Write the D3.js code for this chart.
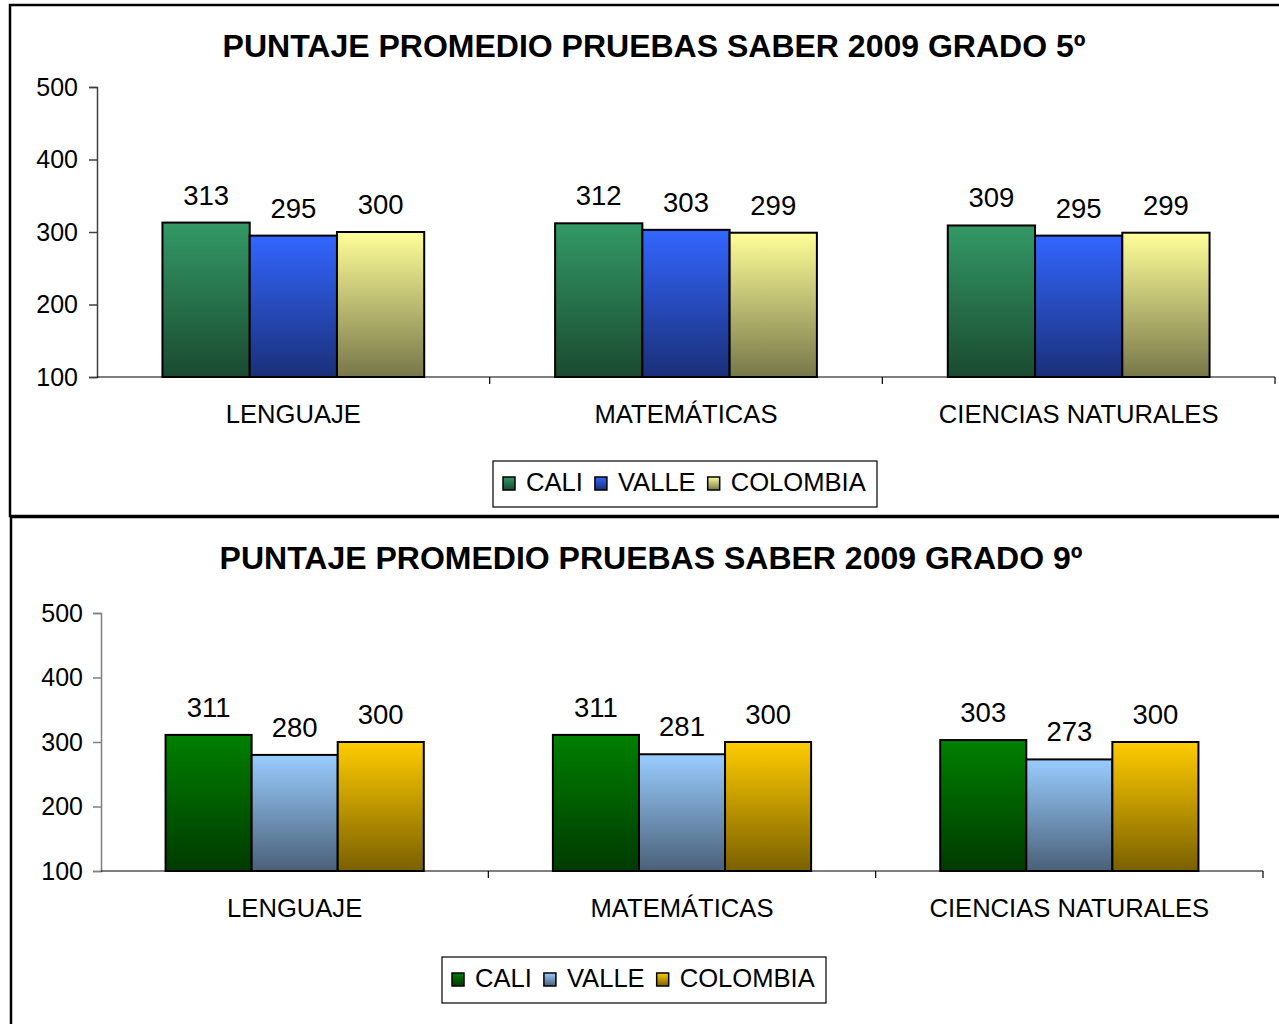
<!DOCTYPE html>
<html><head><meta charset="utf-8">
<script src="https://cdn.jsdelivr.net/npm/d3@7"></script>
<style>
html,body{margin:0;padding:0;background:#fff;}
svg{display:block;font-family:"Liberation Sans",Arial,sans-serif;}
</style></head>
<body>
<svg id="c" width="1279" height="1024"></svg>
<script>
const categories = ["LENGUAJE", "MATEMÁTICAS", "CIENCIAS NATURALES"];
const seriesNames = ["CALI", "VALLE", "COLOMBIA"];
const grado5Cali = [313, 312, 309];
const grado5Valle = [295, 303, 295];
const grado5Colombia = [300, 299, 299];
const grado9Cali = [311, 311, 303];
const grado9Valle = [280, 281, 273];
const grado9Colombia = [300, 300, 300];
const yTicks = [100, 200, 300, 400, 500];

const svg = d3.select("#c");
const defs = svg.append("defs");

const charts = [
  {
    title: "PUNTAJE PROMEDIO PRUEBAS SABER 2009 GRADO 5º",
    values: [grado5Cali, grado5Valle, grado5Colombia],
    colors: [["#339966","#1a4a30"],["#3366ff","#1a2f78"],["#ffff99","#77774a"]],
    frame: {x:10, y:5, w:1300, h:511},
    titleX: 654, titleY: 57, x0: 97, x1: 1275, yTop: 87, yBot: 377,
    tickEnd: 78, catY: 423, axisColor: "#404040",
    legend: {x:493, y:461, w:384, h:46}
  },
  {
    title: "PUNTAJE PROMEDIO PRUEBAS SABER 2009 GRADO 9º",
    values: [grado9Cali, grado9Valle, grado9Colombia],
    colors: [["#008000","#003a00"],["#99ccff","#4a6078"],["#ffcc00","#7a6000"]],
    frame: {x:11, y:517, w:1300, h:600},
    titleX: 651, titleY: 569, x0: 101, x1: 1263, yTop: 613, yBot: 871,
    tickEnd: 83, catY: 917, axisColor: "#808080",
    legend: {x:442, y:957, w:384, h:46}
  }
];

charts.forEach((ch, ci) => {
  const g = svg.append("g");
  g.append("rect").attr("x", ch.frame.x).attr("y", ch.frame.y)
    .attr("width", ch.frame.w).attr("height", ch.frame.h)
    .attr("fill", "#fff").attr("stroke", "#000").attr("stroke-width", 2.5);

  ch.colors.forEach((c, si) => {
    const lg = defs.append("linearGradient").attr("id", `g${ci}_${si}`)
      .attr("x1", 0).attr("y1", 0).attr("x2", 0).attr("y2", 1);
    lg.append("stop").attr("offset", "0%").attr("stop-color", c[0]);
    lg.append("stop").attr("offset", "100%").attr("stop-color", c[1]);
  });

  g.append("text").attr("x", ch.titleX).attr("y", ch.titleY)
    .attr("text-anchor", "middle").attr("font-weight", "bold")
    .attr("font-size", 32).attr("fill", "#000").text(ch.title);

  const y = d3.scaleLinear().domain([100, 500]).range([ch.yBot, ch.yTop]);
  const x = d3.scaleBand().domain(categories).range([ch.x0, ch.x1]).padding(0);
  const bw = x.bandwidth();
  const xs = d3.scaleBand().domain(seriesNames).range([bw / 6, bw * 5 / 6]).padding(0);

  const ya = g.append("g").attr("transform", `translate(${ch.x0},0)`)
    .call(d3.axisLeft(y).tickValues(yTicks).tickSize(8).tickPadding(ch.x0 - 8 - ch.tickEnd).tickFormat(d3.format("d")));
  ya.select(".domain").attr("stroke", ch.axisColor).attr("stroke-width", 1.5);
  ya.selectAll(".tick line").attr("stroke", ch.axisColor).attr("stroke-width", 1.5);
  ya.selectAll(".tick text").attr("font-size", 25).attr("fill", "#000")
    .attr("font-family", "Liberation Sans, Arial, sans-serif");

  const xa = g.append("g").attr("transform", `translate(0,${ch.yBot})`);
  xa.append("line").attr("x1", ch.x0).attr("x2", ch.x1).attr("stroke", "#000").attr("stroke-width", 1.2);
  const bounds = categories.map(c => x(c)).concat([x(categories[categories.length-1]) + bw]);
  xa.selectAll("line.b").data(bounds.slice(1)).join("line").attr("class","b")
    .attr("x1", d => d).attr("x2", d => d).attr("y1", 0).attr("y2", 7)
    .attr("stroke", "#000").attr("stroke-width", 1.2);
  g.selectAll("text.cat").data(categories).join("text").attr("class","cat")
    .attr("x", d => x(d) + bw / 2).attr("y", ch.catY)
    .attr("text-anchor", "middle").attr("font-size", 25.6).attr("fill", "#000").text(d => d);

  seriesNames.forEach((s, si) => {
    const vals = ch.values[si];
    g.selectAll(`rect.s${si}`).data(vals).join("rect").attr("class", `s${si}`)
      .attr("x", (d, i) => x(categories[i]) + xs(s))
      .attr("y", d => y(d))
      .attr("width", xs.bandwidth())
      .attr("height", d => ch.yBot - y(d))
      .attr("fill", `url(#g${ci}_${si})`)
      .attr("stroke", "#000").attr("stroke-width", 2);
    g.selectAll(`text.v${si}`).data(vals).join("text").attr("class", `v${si}`)
      .attr("x", (d, i) => x(categories[i]) + xs(s) + xs.bandwidth() / 2)
      .attr("y", d => y(d) - 18)
      .attr("text-anchor", "middle").attr("font-size", 27.5).attr("fill", "#000")
      .text(d => d);
  });

  const L = ch.legend;
  const lg = g.append("g");
  lg.append("rect").attr("x", L.x).attr("y", L.y).attr("width", L.w).attr("height", L.h)
    .attr("fill", "#fff").attr("stroke", "#000").attr("stroke-width", 1.2);
  let cx = L.x + 10;
  const baseY = L.y + 30;
  seriesNames.forEach((s, si) => {
    lg.append("rect").attr("x", cx).attr("y", baseY - 14).attr("width", 12).attr("height", 13)
      .attr("fill", `url(#g${ci}_${si})`).attr("stroke", "#000").attr("stroke-width", 1.5);
    const t = lg.append("text").attr("x", cx + 23).attr("y", baseY)
      .attr("font-size", 25.6).attr("fill", "#000").text(s);
    const w = t.node().getComputedTextLength();
    cx = cx + 23 + w + 12;
  });
});
</script>
</body></html>
